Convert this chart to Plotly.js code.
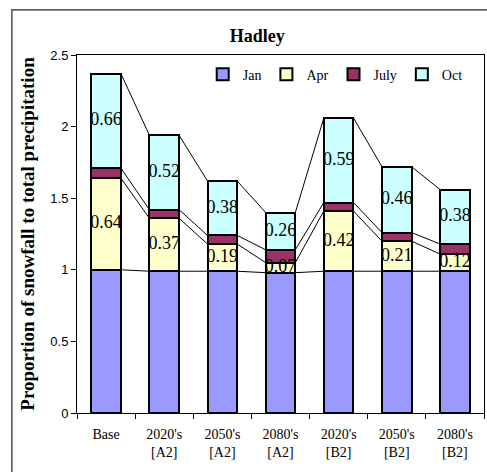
<!DOCTYPE html>
<html>
<head>
<meta charset="utf-8">
<script src="https://cdn.plot.ly/plotly-3.0.1.min.js"></script>
<style>html,body{margin:0;padding:0;background:#fff;}#chart{width:487px;height:472px;}</style>
</head>
<body>
<div id="chart"></div>
<script>
var categories = ["Base", "2020's<br>[A2]", "2050's<br>[A2]", "2080's<br>[A2]", "2020's<br>[B2]", "2050's<br>[B2]", "2080's<br>[B2]"];
var seriesNames = ["Jan", "Apr", "July", "Oct"];
var janValues  = [1.00, 0.99, 0.99, 0.98, 0.99, 0.99, 0.99];
var aprValues  = [0.64, 0.37, 0.19, 0.07, 0.42, 0.21, 0.12];
var julyValues = [0.07, 0.06, 0.06, 0.09, 0.06, 0.06, 0.07];
var octValues  = [0.66, 0.52, 0.38, 0.26, 0.59, 0.46, 0.38];
var aprLabels  = ["0.64", "0.37", "0.19", "0.07", "0.42", "0.21", "0.12"];
var octLabels  = ["0.66", "0.52", "0.38", "0.26", "0.59", "0.46", "0.38"];

var colors = ["#9999FF", "#FFFFCC", "#993366", "#CCFFFF"];
var allSeries = [janValues, aprValues, julyValues, octValues];
var barWidth = 0.51;

var traces = allSeries.map(function (vals, k) {
  return {
    type: "bar", x: categories, y: vals, name: seriesNames[k], width: barWidth,
    marker: {color: colors[k], line: {color: "#000", width: 2}},
    hoverinfo: "skip"
  };
});

// cumulative tops
var cum = [];
var run = categories.map(function () { return 0; });
allSeries.forEach(function (vals) {
  run = run.map(function (r, i) { return r + vals[i]; });
  cum.push(run.slice());
});

// value labels
var labelY = [], labelX = [], labelT = [];
categories.forEach(function (c, i) {
  labelX.push(c); labelY.push(cum[0][i] + aprValues[i] / 2); labelT.push(aprLabels[i]);
  labelX.push(c); labelY.push(cum[2][i] + octValues[i] / 2); labelT.push(octLabels[i]);
});
traces.push({
  type: "scatter", mode: "text", x: labelX, y: labelY, text: labelT,
  textfont: {family: "Liberation Serif, Times New Roman, serif", size: 18, color: "#000"},
  showlegend: false, hoverinfo: "skip", cliponaxis: false
});

// series lines
var shapes = [];
cum.forEach(function (level) {
  for (var i = 0; i < categories.length - 1; i++) {
    shapes.push({type: "line", xref: "x", yref: "y",
      x0: i + barWidth / 2, y0: level[i], x1: i + 1 - barWidth / 2, y1: level[i + 1],
      line: {color: "#000", width: 1}});
  }
});
// outer chart frame (right and bottom edges fall outside the picture)
shapes.push({type: "rect", xref: "paper", yref: "paper", x0: -0.16, y0: -0.4, x1: 1.2, y1: 1.126,
  line: {color: "#222", width: 1.2}, fillcolor: "rgba(0,0,0,0)"});

var layout = {
  width: 487, height: 472,
  margin: {l: 77, r: 3, t: 55, b: 59},
  paper_bgcolor: "#fff", plot_bgcolor: "#fff",
  barmode: "stack", bargap: 0.49,
  showlegend: true,
  title: {text: "<b>Hadley</b>", x: 0.528, xanchor: "center", y: 0.925, yanchor: "middle",
    font: {family: "Liberation Serif, Times New Roman, serif", size: 18, color: "#000"}},
  legend: {orientation: "h", x: 0.96, xanchor: "right", y: 0.99, yanchor: "top",
    bgcolor: "rgba(0,0,0,0)", traceorder: "normal", itemwidth: 30,
    font: {family: "Liberation Serif, Times New Roman, serif", size: 14, color: "#000"}},
  xaxis: {type: "category", range: [-0.5, 6.5], showline: true, mirror: true, linecolor: "#000", linewidth: 1,
    ticks: "outside", tickson: "boundaries", ticklen: 5, tickcolor: "#000", ticklabelstandoff: 8,
    showgrid: false, zeroline: false, fixedrange: true,
    tickfont: {family: "Liberation Serif, Times New Roman, serif", size: 14, color: "#000"}},
  yaxis: {range: [0, 2.5], dtick: 0.5, tick0: 0, showline: true, mirror: true, linecolor: "#000", linewidth: 1,
    ticks: "outside", ticklen: 5, tickcolor: "#000", showgrid: false, zeroline: false,
    tickfont: {family: "Liberation Sans, Arial, sans-serif", size: 13, color: "#000"},
    title: {text: "<b>Proportion of snowfall to total precipitation</b>", standoff: 10,
      font: {family: "Liberation Serif, Times New Roman, serif", size: 19, color: "#000"}}},
  shapes: shapes
};

Plotly.newPlot("chart", traces, layout, {displayModeBar: false, staticPlot: true});
</script>
</body>
</html>
